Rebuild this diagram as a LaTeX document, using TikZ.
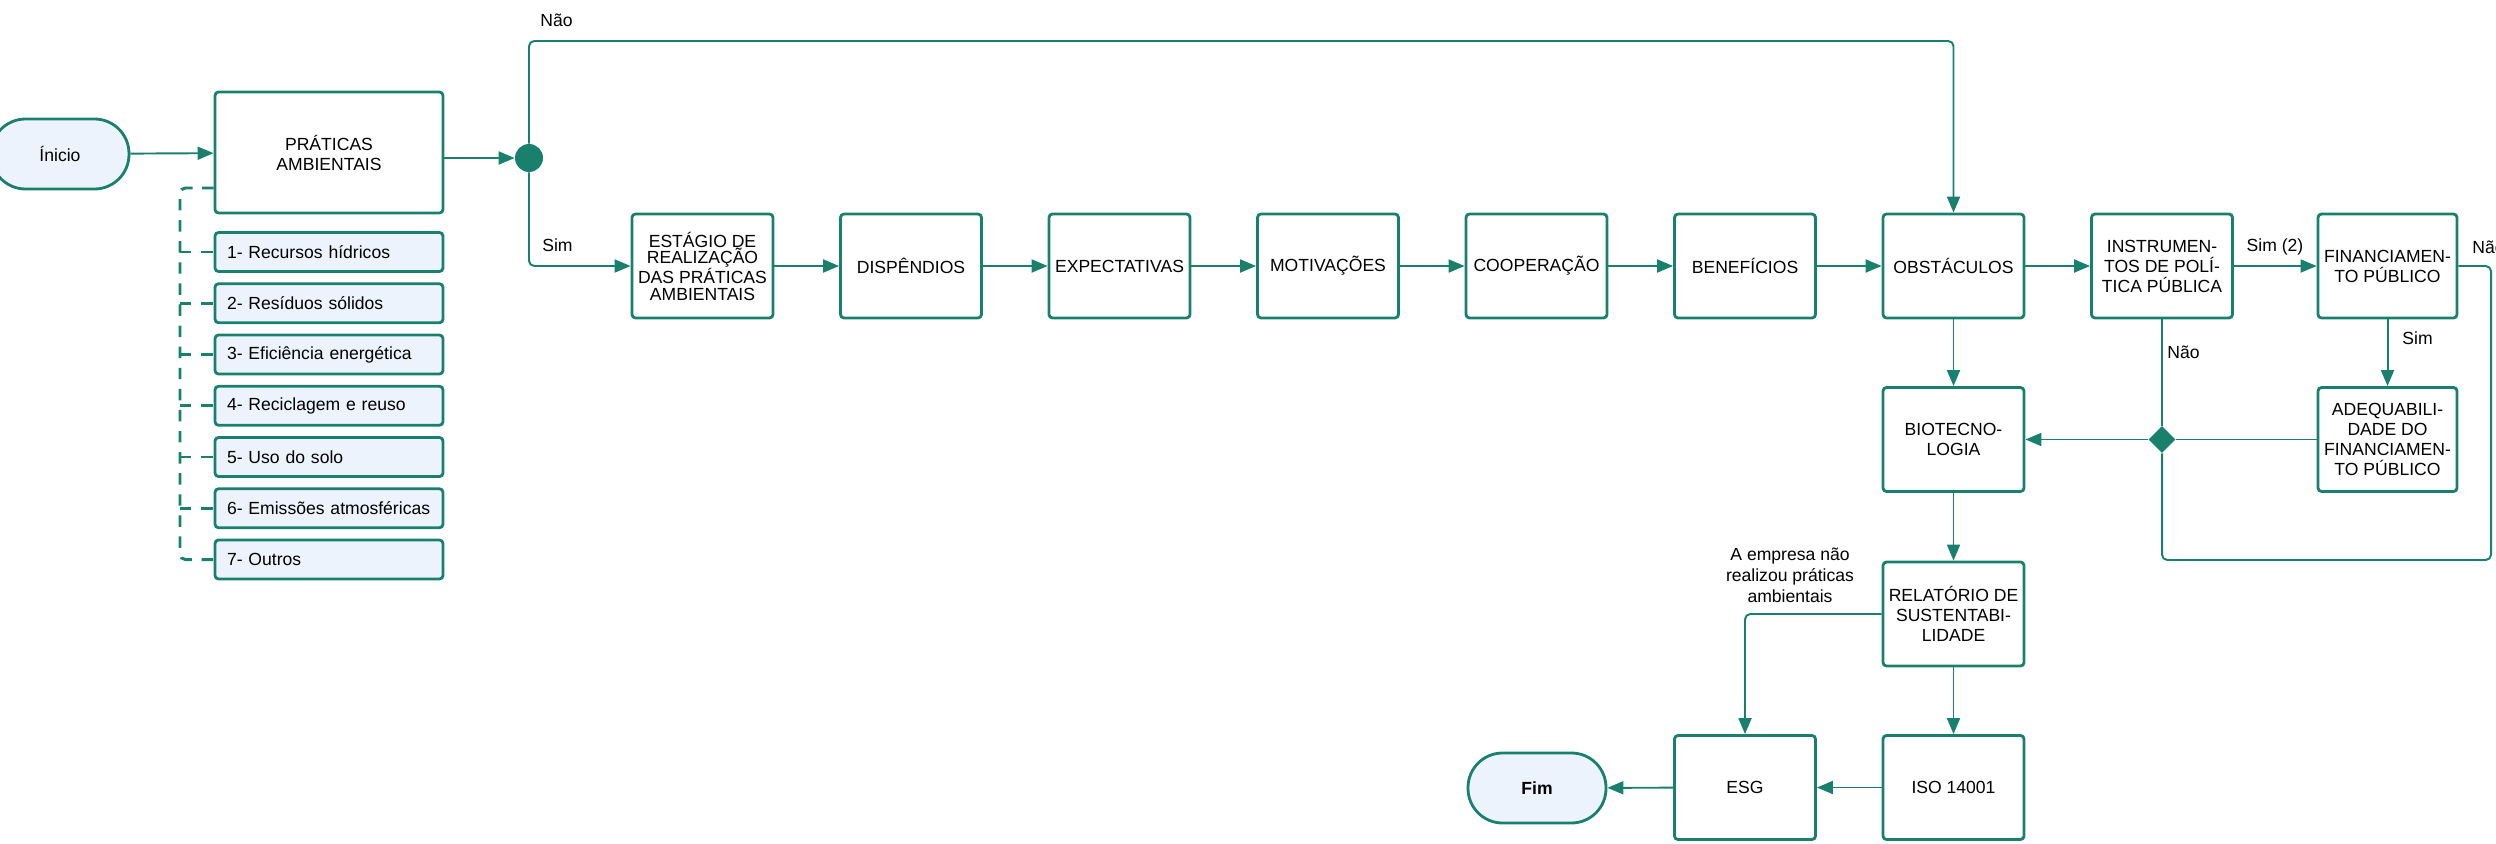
\documentclass[tikz,border=0pt]{standalone}
\usepackage{fontspec}
\setmainfont{Liberation Sans}
\usepackage{xcolor}
\usetikzlibrary{arrows.meta,shapes.geometric}
\definecolor{flowgreen}{HTML}{1A806E}
\definecolor{lightfill}{HTML}{EDF3FC}

\begin{document}
\begin{tikzpicture}[
    font=\fontsize{10}{11.4}\selectfont,
    box/.style={draw=flowgreen, line width=1.6pt, rounded corners=2pt, minimum width=2.82cm, minimum height=2.08cm, align=center, inner sep=2pt},
    item/.style={draw=flowgreen, fill=lightfill, line width=1.6pt, rounded corners=2pt, minimum height=0.78cm, text width=4.08cm, inner xsep=0.24cm, align=left},
    term/.style={draw=flowgreen, fill=lightfill, line width=1.6pt, rounded corners=0.69cm, minimum width=2.76cm, minimum height=1.4cm},
    link/.style={draw=flowgreen, line width=1.1pt, rounded corners=3pt, -{Triangle[length=0.32cm,width=0.26cm]}},
    plainlink/.style={draw=flowgreen, line width=1.1pt, rounded corners=3pt},
    dashlink/.style={draw=flowgreen, line width=1.7pt, rounded corners=3pt, dash pattern=on 6.5pt off 5.5pt},
    tag/.style={font=\fontsize{10}{11.9}\selectfont, inner sep=0pt}
]
    \useasboundingbox (0,0) rectangle (49.92,-16.86);
    % Start and practices
    \node[term] (inicio) at (1.2,-3.08) {Ínicio};
    \node[box, minimum width=4.56cm, minimum height=2.42cm] (praticas) at (6.58,-3.05) {PRÁTICAS\\AMBIENTAIS};
    \node[circle, fill=flowgreen, minimum size=0.56cm, inner sep=0pt] (dot) at (10.58,-3.16) {};
    % Practice types
    \node[item] (item1) at (6.58,-5.04) {1- Recursos hídricos};
    \node[item] (item2) at (6.58,-6.065) {2- Resíduos sólidos};
    \node[item] (item3) at (6.58,-7.09) {3- Eficiência energética};
    \node[item] (item4) at (6.58,-8.115) {4- Reciclagem e reuso};
    \node[item] (item5) at (6.58,-9.14) {5- Uso do solo};
    \node[item] (item6) at (6.58,-10.165) {6- Emissões atmosféricas};
    \node[item] (item7) at (6.58,-11.19) {7- Outros};
    % Main row
    \node[box, font=\fontsize{10}{9.2}\selectfont] (estagio) at (14.05,-5.32) {ESTÁGIO DE\\REALIZAÇÃO\\DAS PRÁTICAS\\AMBIENTAIS};
    \node[box] (dispendios) at (18.22,-5.32) {DISPÊNDIOS};
    \node[box] (expectativas) at (22.39,-5.32) {EXPECTATIVAS};
    \node[box] (motivacoes) at (26.56,-5.32) {MOTIVAÇÕES};
    \node[box] (cooperacao) at (30.73,-5.32) {COOPERAÇÃO};
    \node[box] (beneficios) at (34.90,-5.32) {BENEFÍCIOS};
    \node[box] (obstaculos) at (39.07,-5.32) {OBSTÁCULOS};
    \node[box] (instrumentos) at (43.24,-5.32) {INSTRUMEN-\\TOS DE POLÍ-\\TICA PÚBLICA};
    \node[box, minimum width=2.78cm] (financiamento) at (47.75,-5.32) {FINANCIAMEN-\\TO PÚBLICO};
    % Lower part
    \node[box] (biotecnologia) at (39.07,-8.79) {BIOTECNO-\\LOGIA};
    \node[box, minimum width=2.78cm] (adequabilidade) at (47.75,-8.79) {ADEQUABILI-\\DADE DO\\FINANCIAMEN-\\TO PÚBLICO};
    \node[diamond, fill=flowgreen, minimum size=0.54cm, inner sep=0pt] (junction) at (43.24,-8.79) {};
    \node[box] (relatorio) at (39.07,-12.28) {RELATÓRIO DE\\SUSTENTABI-\\LIDADE};
    \node[box] (iso) at (39.07,-15.75) {ISO 14001};
    \node[box] (esg) at (34.90,-15.75) {ESG};
    \node[term] (fim) at (30.74,-15.76) {\textbf{Fim}};
    % Turn points
    \coordinate (naoturn) at (39.07,-0.82);
    \coordinate (loopcorner) at (49.82,-11.2);
    \coordinate (spine) at (3.6,-3.76);
    % Connectors
    \draw[link] (inicio) -- (praticas);
    \draw[link] (praticas.east |- dot) -- (dot);
    \draw[link] (dot) |- (naoturn) -- (obstaculos);
    \draw[link] (dot) |- (estagio);
    \draw[link] (estagio) -- (dispendios);
    \draw[link] (dispendios) -- (expectativas);
    \draw[link] (expectativas) -- (motivacoes);
    \draw[link] (motivacoes) -- (cooperacao);
    \draw[link] (cooperacao) -- (beneficios);
    \draw[link] (beneficios) -- (obstaculos);
    \draw[link] (obstaculos) -- (instrumentos);
    \draw[link] (instrumentos) -- (financiamento);
    \draw[link] (financiamento) -- (adequabilidade);
    \draw[plainlink] (financiamento) -| (loopcorner) -| (junction.south);
    \draw[plainlink] (instrumentos) -- (junction);
    \draw[plainlink] (adequabilidade) -- (junction);
    \draw[link] (junction) -- (biotecnologia);
    \draw[link] (obstaculos) -- (biotecnologia);
    \draw[link] (biotecnologia) -- (relatorio);
    \draw[link] (relatorio) -- (iso);
    \draw[link] (relatorio) -| (esg);
    \draw[link] (iso) -- (esg);
    \draw[link] (esg) -- (fim);
    % Dashed links to the types
    \draw[dashlink] (praticas.west |- spine) -- (spine) |- (item7);
    \draw[dashlink] (spine |- item1) -- (item1);
    \draw[dashlink] (spine |- item2) -- (item2);
    \draw[dashlink] (spine |- item3) -- (item3);
    \draw[dashlink] (spine |- item4) -- (item4);
    \draw[dashlink] (spine |- item5) -- (item5);
    \draw[dashlink] (spine |- item6) -- (item6);
    % Labels
    \node[tag, anchor=west] (naotop) at (10.8,-0.4) {Não};
    \node[tag, anchor=west] (simleft) at (10.84,-4.9) {Sim};
    \node[tag] (simtwo) at (45.5,-4.94) {Sim (2)};
    \node[tag, anchor=west] (naoright) at (49.44,-4.94) {Não};
    \node[tag, anchor=west] (naomid) at (43.34,-7.04) {Não};
    \node[tag, anchor=west] (simmid) at (48.04,-6.76) {Sim};
    \node[tag, align=center] (semrelatorio) at (35.8,-11.5) {A empresa não\\realizou práticas\\ambientais};
\end{tikzpicture}
\end{document}
